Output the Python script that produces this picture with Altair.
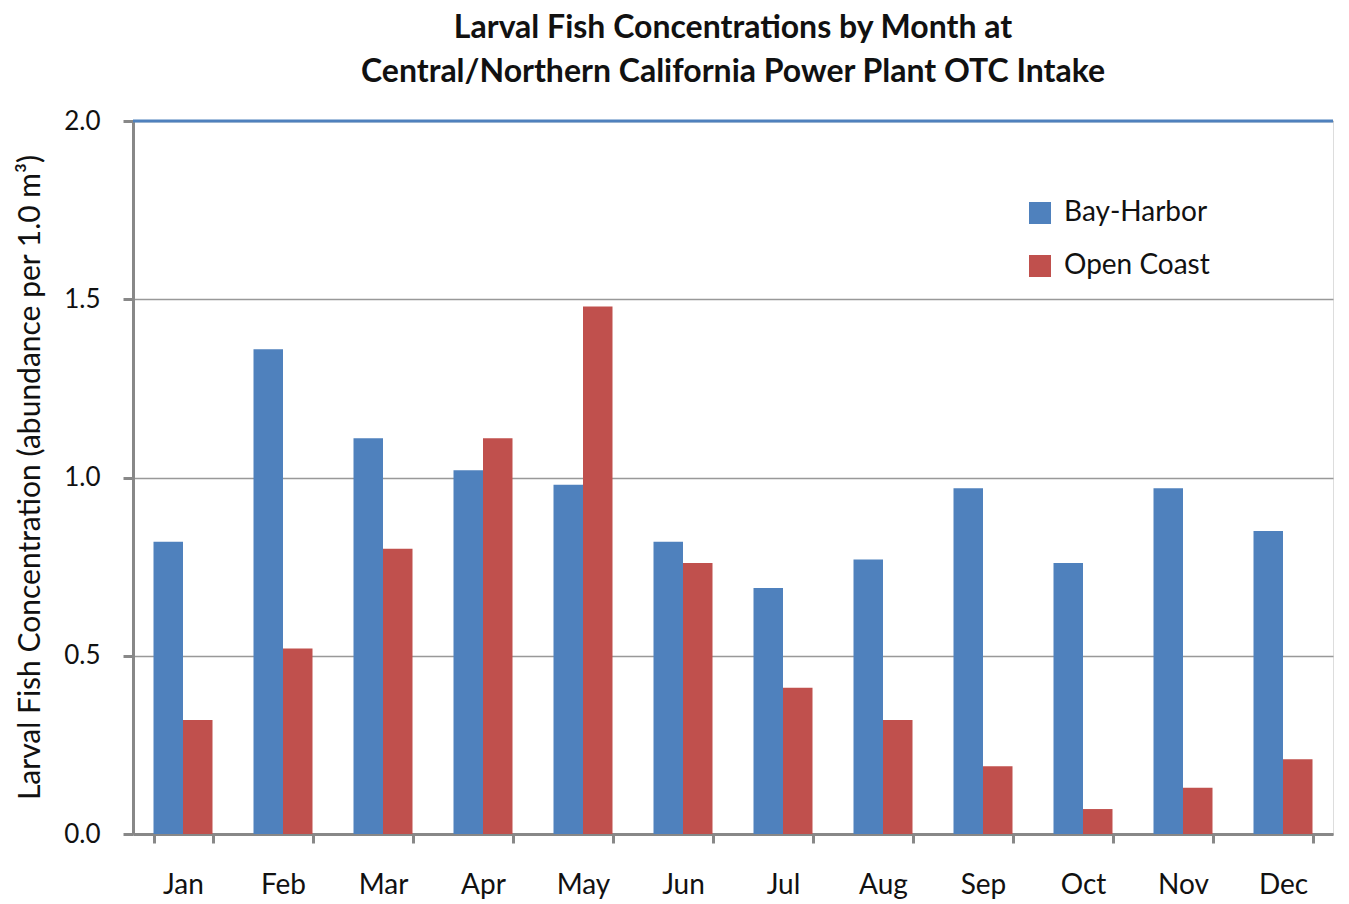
import altair as alt
import pandas as pd

months = ["Jan", "Feb", "Mar", "Apr", "May", "Jun", "Jul", "Aug", "Sep", "Oct", "Nov", "Dec"]
bay_harbor = [0.82, 1.36, 1.11, 1.02, 0.98, 0.82, 0.69, 0.77, 0.97, 0.76, 0.97, 0.85]
open_coast = [0.32, 0.52, 0.80, 1.11, 1.48, 0.76, 0.41, 0.32, 0.19, 0.07, 0.13, 0.21]
series = ["Bay-Harbor", "Open Coast"]
colors = ["#4F81BD", "#C0504D"]
y_ticks = [0.0, 0.5, 1.0, 1.5, 2.0]

rows = []
for m, b, o in zip(months, bay_harbor, open_coast):
    rows.append({"month": m, "series": series[0], "value": b})
    rows.append({"month": m, "series": series[1], "value": o})
df = pd.DataFrame(rows)

FONT = "Lato"

bars = alt.Chart(df).mark_bar().encode(
    x=alt.X("month:N", sort=months,
            scale=alt.Scale(paddingInner=0.41, paddingOuter=0.205),
            axis=alt.Axis(title=None, labelAngle=0, labelFontSize=28, labelColor="#111",
                          labelPadding=28, tickBand="extent", tickSize=9, tickWidth=3,
                          tickColor="#888", domainColor="#888", domainWidth=3,
                          labelFont=FONT, grid=False)),
    xOffset=alt.XOffset("series:N", sort=series, scale=alt.Scale(paddingInner=0, paddingOuter=0)),
    y=alt.Y("value:Q", scale=alt.Scale(domain=[0, 2], nice=False),
            axis=alt.Axis(values=y_ticks, format=".1f", labelFontSize=26, labelColor="#111",
                          labelFont=FONT, labelPadding=23, tickSize=10, tickWidth=3,
                          tickColor="#888", domainColor="#888", domainWidth=3,
                          gridColor="#999", gridWidth=1.5,
                          title="Larval Fish Concentration (abundance per 1.0 m³)",
                          titleFont=FONT, titleFontSize=30, titleFontWeight="normal",
                          titleColor="#111", titleX=-103, titleY=356, titleAngle=270,
                          titleAlign="center", titleBaseline="middle",
                          minExtent=120, maxExtent=120)),
    color=alt.Color("series:N", sort=series,
                    scale=alt.Scale(domain=series, range=colors),
                    legend=alt.Legend(title=None, orient="none", legendX=893, legendY=78,
                                      symbolType="square", symbolSize=484, symbolStrokeWidth=0,
                                      labelFontSize=28, labelFont=FONT, labelColor="#111",
                                      labelOffset=10, rowPadding=25, padding=0)),
)

top_line = alt.Chart(pd.DataFrame({"y": [2.0]})).mark_rule(color="#4F81BD", strokeWidth=3).encode(
    y=alt.Y("y:Q")
)

chart = alt.layer(bars, top_line).properties(
    width=1200,
    height=713,
    title=alt.TitleParams(
        text=["Larval Fish Concentrations by Month at",
              "Central/Northern California Power Plant OTC Intake"],
        fontSize=32, fontWeight="bold", font=FONT, color="#111",
        lineHeight=44, offset=19, anchor="middle"),
).configure_view(stroke=None).configure(padding={"left": 5, "top": 4, "right": 5, "bottom": 0})

chart.save("out.html", embed_options={"renderer": "svg", "actions": False})
